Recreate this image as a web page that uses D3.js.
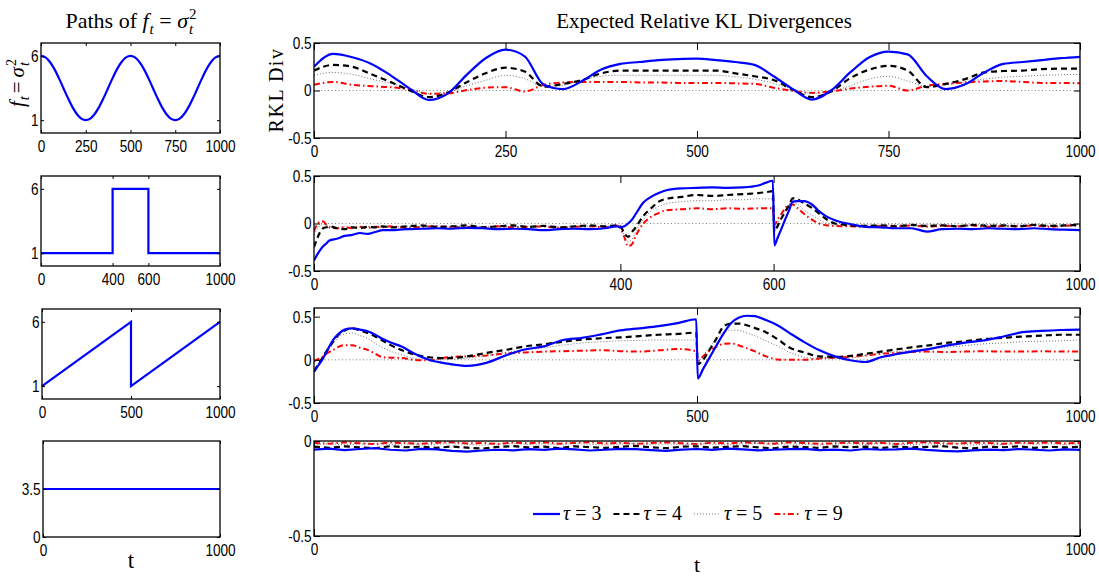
<!DOCTYPE html>
<html><head><meta charset="utf-8">
<script src="https://cdn.jsdelivr.net/npm/d3@7"></script>
<style>body{margin:0;background:#fff} svg{display:block}</style>
</head><body>
<svg id="c" width="1099" height="577"></svg>
<script>
// ---------------- DATA ----------------
// left column: paths of f_t = sigma_t^2
const tSine = [0,25,50,75,100,125,150,175,200,225,250,275,300,325,350,375,400,425,450,475,500,525,550,575,600,625,650,675,700,725,750,775,800,825,850,875,900,925,950,975,1000];
const fSine = [6.00,5.88,5.52,4.97,4.27,3.50,2.73,2.03,1.48,1.12,1.00,1.12,1.48,2.03,2.73,3.50,4.27,4.97,5.52,5.88,6.00,5.88,5.52,4.97,4.27,3.50,2.73,2.03,1.48,1.12,1.00,1.12,1.48,2.03,2.73,3.50,4.27,4.97,5.52,5.88,6.00];
const tStep = [0,400,400,600,600,1000];
const fStep = [1,1,6,6,1,1];
const tSaw = [0,500,500,1000];
const fSaw = [1,6,1,6];
const tConst = [0,1000];
const fConst = [3.5,3.5];

// right column: expected relative KL divergences
const tauLabels = ["3","4","5","9"];

const t1 = [0,25,50,75,100,125,150,175,200,225,250,275,300,325,350,375,400,425,450,475,500,525,550,575,600,625,650,675,700,725,750,775,800,825,850,875,900,925,950,975,1000];
const p1tau3 = [0.25,0.385,0.35,0.28,0.16,0.02,-0.10,-0.03,0.17,0.345, 0.43,0.36,0.06,0.015,0.10,0.22,0.28,0.30,0.32,0.33, 0.335,0.32,0.30,0.27,0.15,0.015,-0.095,0.0,0.19,0.35, 0.41,0.38,0.15,0.015,0.065,0.19,0.28,0.30,0.32,0.34,0.355];
const p1tau4 = [0.21,0.27,0.25,0.17,0.09,0.0,-0.07,-0.02,0.09,0.185, 0.24,0.20,0.04,0.07,0.11,0.18,0.21,0.21,0.21,0.21, 0.21,0.21,0.18,0.15,0.11,0.01,-0.07,-0.01,0.13,0.22, 0.26,0.21,0.035,0.07,0.12,0.19,0.205,0.21,0.225,0.23,0.23];
const p1tau5 = [0.16,0.19,0.17,0.12,0.075,0.02,-0.03,-0.015,0.05,0.11, 0.16,0.125,0.04,0.055,0.11,0.15,0.16,0.16,0.16,0.16, 0.16,0.16,0.145,0.12,0.075,0.015,-0.03,-0.01,0.05,0.12, 0.15,0.10,0.045,0.06,0.09,0.12,0.14,0.15,0.16,0.165,0.17];
const p1tau9 = [0.06,0.09,0.06,0.045,0.035,0.01,-0.035,-0.03,0.005,0.03, 0.035,-0.01,0.06,0.085,0.09,0.09,0.09,0.085,0.085,0.08, 0.08,0.08,0.075,0.07,0.03,-0.005,-0.025,-0.01,0.02,0.04, 0.05,0.0,0.05,0.07,0.085,0.095,0.10,0.09,0.08,0.08,0.075];

const t2 = [0,4,8,12,16,20,30,40,50,60,70,80,90,100,120,140,160,180,200,220,240,260,280,300,320,340,360,380,395,400,405,410,415,420,430,440,450,460,480,500,520,540,560,580,590,599,601,605,610,615,620,625,630,640,650,660,670,680,690,700,720,740,760,780,800,820,840,860,880,900,920,940,960,980,1000];
const p2tau3 = [-0.39,-0.33,-0.28,-0.24,-0.21,-0.18,-0.16,-0.13,-0.12,-0.10, -0.11,-0.09,-0.07,-0.07,-0.06,-0.055,-0.05,-0.055,-0.045,-0.05, -0.06,-0.055,-0.06,-0.07,-0.06,-0.055,-0.06,-0.05,-0.03,-0.04, -0.03,0.0,0.04,0.10,0.22,0.28,0.32,0.35,0.37,0.375, 0.38,0.375,0.38,0.40,0.43,0.45,-0.23,-0.155,-0.06,0.04, 0.135,0.23,0.235,0.235,0.20,0.125,0.07,0.035,0.01,-0.005, -0.035,-0.04,-0.05,-0.05,-0.085,-0.06,-0.055,-0.06,-0.05,-0.055, -0.06,-0.05,-0.06,-0.065,-0.07];
const p2tau4 = [-0.25,-0.16,-0.09,-0.05,-0.04,-0.03,-0.05,-0.06,-0.04,-0.05, -0.035,-0.04,-0.03,-0.04,-0.03,-0.02,-0.035,-0.03,-0.02,-0.04, -0.03,-0.02,-0.035,-0.025,-0.04,-0.03,-0.02,-0.03,-0.02,-0.03, -0.10,-0.14,-0.09,-0.04,0.08,0.16,0.23,0.26,0.28,0.30, 0.29,0.30,0.31,0.32,0.33,0.34,-0.085,-0.03,0.05,0.12, 0.19,0.265,0.26,0.21,0.165,0.10,0.04,0.0,-0.01,-0.02, -0.025,-0.02,-0.03,-0.015,-0.025,-0.02,-0.03,-0.015,-0.025,-0.02, -0.03,-0.015,-0.025,-0.02,-0.015];
const p2tau5 = [-0.12,-0.06,-0.02,-0.01,-0.02,-0.03,-0.04,-0.035,-0.03,-0.04, -0.03,-0.035,-0.04,-0.03,-0.035,-0.03,-0.04,-0.03,-0.035,-0.03, -0.04,-0.03,-0.035,-0.03,-0.04,-0.03,-0.035,-0.03,-0.02,-0.02, -0.12,-0.19,-0.17,-0.08,0.04,0.13,0.18,0.21,0.23,0.24, 0.24,0.25,0.25,0.26,0.26,0.26,-0.05,0.0,0.06,0.13, 0.19,0.22,0.21,0.14,0.09,0.04,0.0,-0.01,-0.015,-0.02, -0.015,-0.02,-0.01,-0.02,-0.015,-0.01,-0.02,-0.015,-0.01,-0.02, -0.015,-0.01,-0.02,-0.015,-0.01];
const p2tau9 = [-0.08,-0.01,0.02,0.02,-0.01,-0.04,-0.05,-0.04,-0.05,-0.035, -0.045,-0.035,-0.04,-0.03,-0.045,-0.035,-0.03,-0.04,-0.035,-0.045, -0.03,-0.04,-0.035,-0.03,-0.045,-0.035,-0.03,-0.04,-0.02,-0.05, -0.14,-0.24,-0.22,-0.13,0.0,0.07,0.11,0.14,0.15,0.16, 0.15,0.16,0.155,0.16,0.16,0.16,-0.015,0.04,0.10,0.16, 0.20,0.20,0.17,0.10,0.04,0.0,-0.02,-0.025,-0.03,-0.03, -0.035,-0.025,-0.03,-0.02,-0.035,-0.025,-0.03,-0.02,-0.035,-0.025, -0.03,-0.02,-0.035,-0.025,-0.02];

const t3 = [0,6,12,18,25,32,40,50,60,70,80,90,100,115,130,150,175,200,225,250,275,300,325,350,375,400,425,450,475,499,501,508,516,525,535,545,555,565,575,590,605,620,640,660,680,700,720,740,760,780,800,825,850,875,900,925,950,975,1000];
const p3tau3 = [-0.14,-0.06,0.02,0.12,0.23,0.30,0.35,0.365,0.35,0.33, 0.29,0.24,0.20,0.15,0.075,0.0,-0.045,-0.07,-0.035,0.05, 0.12,0.155,0.23,0.255,0.295,0.34,0.365,0.39,0.425,0.47, -0.215,-0.105,0.02,0.16,0.31,0.43,0.49,0.51,0.505,0.46, 0.40,0.315,0.205,0.11,0.04,-0.005,-0.025,0.03,0.065,0.095, 0.12,0.165,0.20,0.225,0.27,0.32,0.335,0.345,0.35];
const p3tau4 = [-0.13,-0.05,0.04,0.12,0.21,0.29,0.34,0.365,0.34,0.31, 0.27,0.22,0.17,0.11,0.065,0.03,0.02,0.04,0.08,0.115, 0.155,0.18,0.21,0.235,0.25,0.26,0.275,0.29,0.30,0.315, -0.05,0.0,0.11,0.24,0.39,0.42,0.42,0.40,0.37,0.32, 0.24,0.145,0.085,0.04,0.035,0.045,0.07,0.095,0.12,0.145, 0.165,0.195,0.215,0.24,0.255,0.27,0.28,0.29,0.29];
const p3tau5 = [-0.10,-0.04,0.03,0.10,0.19,0.26,0.30,0.31,0.28,0.25, 0.19,0.14,0.10,0.055,0.02,0.005,0.005,0.02,0.05,0.085, 0.115,0.14,0.17,0.195,0.21,0.22,0.225,0.23,0.23,0.23, -0.02,0.05,0.14,0.24,0.32,0.345,0.34,0.31,0.28,0.22, 0.16,0.09,0.03,0.015,0.015,0.02,0.05,0.075,0.095,0.11, 0.125,0.145,0.165,0.185,0.195,0.21,0.215,0.22,0.23];
const p3tau9 = [-0.015,0.01,0.04,0.08,0.115,0.15,0.17,0.17,0.14,0.115, 0.07,0.03,0.025,0.02,0.0,-0.005,0.03,0.04,0.05,0.075, 0.085,0.095,0.10,0.105,0.11,0.10,0.095,0.11,0.125,0.10, -0.015,0.04,0.10,0.15,0.185,0.19,0.165,0.135,0.10,0.04, 0.005,0.0,0.0,0.015,0.025,0.035,0.05,0.07,0.08,0.09, 0.095,0.09,0.095,0.10,0.095,0.095,0.10,0.095,0.095];

const t4 = [0,20,40,60,80,100,120,140,160,180,200,220,240,260,280,300,320,340,360,380,400,420,440,460,480,500,520,540,560,580,600,620,640,660,680,700,720,740,760,780,800,820,840,860,880,900,920,940,960,980,1000];
const p4tau3 = [-0.045,-0.040,-0.048,-0.042,-0.038,-0.046,-0.050,-0.041,-0.044,-0.052, -0.056,-0.050,-0.046,-0.049,-0.043,-0.047,-0.040,-0.044,-0.050,-0.046, -0.041,-0.043,-0.048,-0.052,-0.045,-0.042,-0.047,-0.040,-0.044,-0.049, -0.046,-0.043,-0.041,-0.048,-0.045,-0.050,-0.042,-0.046,-0.044,-0.040, -0.047,-0.052,-0.055,-0.049,-0.045,-0.048,-0.042,-0.046,-0.050,-0.044,-0.047];
const p4tau4 = [-0.030,-0.036,-0.028,-0.034,-0.038,-0.027,-0.033,-0.030,-0.036,-0.029, -0.035,-0.040,-0.031,-0.027,-0.034,-0.030,-0.037,-0.028,-0.032,-0.036, -0.030,-0.026,-0.033,-0.038,-0.030,-0.028,-0.035,-0.031,-0.027,-0.034, -0.038,-0.029,-0.032,-0.036,-0.028,-0.033,-0.030,-0.037,-0.029,-0.034, -0.031,-0.027,-0.035,-0.039,-0.030,-0.033,-0.028,-0.036,-0.031,-0.034,-0.030];
const p4tau5 = [-0.018,-0.014,-0.020,-0.016,-0.012,-0.019,-0.015,-0.021,-0.017,-0.013, -0.018,-0.022,-0.016,-0.014,-0.019,-0.015,-0.020,-0.013,-0.017,-0.021, -0.016,-0.012,-0.018,-0.015,-0.020,-0.014,-0.017,-0.021,-0.016,-0.013, -0.019,-0.015,-0.018,-0.022,-0.016,-0.014,-0.019,-0.013,-0.017,-0.020, -0.015,-0.018,-0.014,-0.021,-0.016,-0.019,-0.013,-0.017,-0.015,-0.020,-0.016];
const p4tau9 = [-0.010,-0.014,-0.007,-0.012,-0.016,-0.008,-0.011,-0.015,-0.009,-0.006, -0.013,-0.010,-0.016,-0.008,-0.012,-0.007,-0.014,-0.010,-0.006,-0.013, -0.009,-0.015,-0.011,-0.007,-0.012,-0.016,-0.009,-0.013,-0.008,-0.011, -0.014,-0.007,-0.010,-0.015,-0.012,-0.008,-0.013,-0.010,-0.016,-0.009, -0.006,-0.012,-0.014,-0.008,-0.011,-0.015,-0.009,-0.012,-0.007,-0.013,-0.010];

// tick values
const leftXTicks = [[0,250,500,750,1000],[0,400,600,1000],[0,500,1000],[0,1000]];
const leftYTicks = [[1,6],[1,6],[1,6],[0,3.5]];
const rightXTicks = [[0,250,500,750,1000],[0,400,600,1000],[0,500,1000],[0,1000]];
const rightYTicks = [[-0.5,0,0.5],[-0.5,0,0.5],[-0.5,0,0.5],[-0.5,0]];
const rightYDomains = [[-0.5,0.5],[-0.5,0.5],[-0.5,0.6],[-0.5,0]];
const leftYDomain = [0,7];

// ---------------- DRAWING ----------------
const svg = d3.select('#c');
const TICKFONT = "'Liberation Sans',Arial,sans-serif";
const SERIF = "'Liberation Serif','Times New Roman',serif";

const styles = [
  {color:'#0000ff', width:2.2, dash:null},
  {color:'#000000', width:2.2, dash:'6,4'},
  {color:'#707070', width:1, dash:'1,2'},
  {color:'#ff0000', width:2, dash:'6,3,1.5,3'}
];

const leftBoxes = [
  {x0:41,x1:220,y0:43,y1:133},
  {x0:41,x1:220,y0:176,y1:266},
  {x0:42,x1:220,y0:309,y1:399},
  {x0:43,x1:220,y0:441,y1:537}
];
const rightBoxes = [
  {x0:314,x1:1080,y0:43,y1:138},
  {x0:314,x1:1080,y0:176,y1:271},
  {x0:314,x1:1080,y0:308,y1:403},
  {x0:314,x1:1080,y0:441,y1:536}
];

const leftPaths = [[tSine,fSine,true],[tStep,fStep,false],[tSaw,fSaw,false],[tConst,fConst,false]];
const rightData = [
  [t1,[p1tau3,p1tau4,p1tau5,p1tau9]],
  [t2,[p2tau3,p2tau4,p2tau5,p2tau9]],
  [t3,[p3tau3,p3tau4,p3tau5,p3tau9]],
  [t4,[p4tau3,p4tau4,p4tau5,p4tau9]]
];

function drawAxes(b, x, y, xt, yt, xlen, ylen){
  const g = svg.append('g');
  const fmt = d => String(d);
  const ax = g.append('g').attr('transform',`translate(0,${b.y1})`)
    .call(d3.axisBottom(x).tickValues(xt).tickSizeInner(-xlen).tickSizeOuter(0).tickPadding(7).tickFormat(fmt));
  const axt = g.append('g').attr('transform',`translate(0,${b.y0})`)
    .call(d3.axisTop(x).tickValues(xt).tickSizeInner(-xlen).tickSizeOuter(0).tickFormat(''));
  const ay = g.append('g').attr('transform',`translate(${b.x0},0)`)
    .call(d3.axisLeft(y).tickValues(yt).tickSizeInner(-ylen).tickSizeOuter(0).tickPadding(3).tickFormat(fmt));
  const ayr = g.append('g').attr('transform',`translate(${b.x1},0)`)
    .call(d3.axisRight(y).tickValues(yt).tickSizeInner(-ylen).tickSizeOuter(0).tickFormat(''));
  [ax,axt,ay,ayr].forEach(a=>{
    a.select('.domain').remove();
    a.selectAll('line').attr('stroke','#000').attr('stroke-width',1);
    a.selectAll('text').attr('font-family',TICKFONT).attr('font-size',17).attr('fill','#000')
      .attr('transform','scale(0.8,1)');
  });
  g.append('rect').attr('x',b.x0).attr('y',b.y0).attr('width',b.x1-b.x0).attr('height',b.y1-b.y0)
    .attr('fill','none').attr('stroke','#000').attr('stroke-width',1.3);
}

// left column
leftBoxes.forEach((b,i)=>{
  const x = d3.scaleLinear().domain([0,1000]).range([b.x0,b.x1]);
  const y = d3.scaleLinear().domain(leftYDomain).range([b.y1,b.y0]);
  const [tt,ff,smooth] = leftPaths[i];
  const line = d3.line().x(d=>x(d[0])).y(d=>y(d[1])).curve(smooth?d3.curveCatmullRom:d3.curveLinear);
  svg.append('path').attr('d',line(tt.map((t,k)=>[t,ff[k]])))
    .attr('fill','none').attr('stroke','#0000ff').attr('stroke-width',2.2);
  drawAxes(b,x,y,leftXTicks[i],leftYTicks[i],3,3);
});

// right column
rightBoxes.forEach((b,i)=>{
  const x = d3.scaleLinear().domain([0,1000]).range([b.x0,b.x1]);
  const y = d3.scaleLinear().domain(rightYDomains[i]).range([b.y1,b.y0]);
  const clipId = 'clip'+i;
  svg.append('clipPath').attr('id',clipId).append('rect')
    .attr('x',b.x0).attr('y',b.y0).attr('width',b.x1-b.x0).attr('height',b.y1-b.y0);
  const g = svg.append('g').attr('clip-path',`url(#${clipId})`);
  // zero reference line
  g.append('line').attr('x1',x(0)).attr('x2',x(1000)).attr('y1',y(0)).attr('y2',y(0))
    .attr('stroke','#808080').attr('stroke-width',1).attr('stroke-dasharray','1,2.5');
  const [tt,series] = rightData[i];
  const line = d3.line().x(d=>x(d[0])).y(d=>y(d[1])).curve(i<3?d3.curveMonotoneX:d3.curveLinear);
  // draw order: tau9, tau5, tau4, tau3 on top
  [3,2,1,0].forEach(s=>{
    const st = styles[s];
    g.append('path').attr('d',line(tt.map((t,k)=>[t,series[s][k]])))
      .attr('fill','none').attr('stroke',st.color).attr('stroke-width',st.width)
      .attr('stroke-dasharray',st.dash).attr('stroke-linejoin','round');
  });
  drawAxes(b,x,y,rightXTicks[i],rightYTicks[i],7,6);
});

// math text helper
function mathText(parent, pieces, size){
  const g = parent.append('g');
  let cx = 0, prevX = 0;
  pieces.forEach(p=>{
    const fs = (p.sub||p.sup) ? size*0.68 : size;
    const dy = p.sub ? size*0.26 : (p.sup ? -size*0.40 : 0);
    const startX = p.stack ? prevX : cx;
    const t = g.append('text').attr('x',startX).attr('y',dy).text(p.t)
      .attr('font-family',SERIF).attr('font-size',fs)
      .attr('font-style',p.i?'italic':'normal').attr('fill','#000')
      .style('white-space','pre');
    const w = t.node().getComputedTextLength();
    if(!p.stack) prevX = startX;
    cx = Math.max(cx, startX + w + (p.gap||0));
  });
  return {g, width: cx};
}

// titles
(function(){
  const m = mathText(svg,[{t:'Paths of '},{t:'f',i:1,gap:1},{t:'t',i:1,sub:1},{t:' = '},{t:'σ',i:1,gap:1},{t:'2',sup:1},{t:'t',i:1,sub:1,stack:1}],22);
  m.g.attr('transform',`translate(${131-m.width/2},28)`);
})();
svg.append('text').attr('x',704).attr('y',28).attr('text-anchor','middle')
  .attr('font-family',SERIF).attr('font-size',21).text('Expected Relative KL Divergences');

// y labels
svg.append('text').attr('transform','translate(283,90) rotate(-90)').attr('text-anchor','middle')
  .attr('font-family',SERIF).attr('font-size',20).attr('letter-spacing',1.5).text('RKL Div');
(function(){
  const m = mathText(svg,[{t:'f',i:1,gap:1},{t:'t',i:1,sub:1,gap:3},{t:'=',gap:4},{t:'σ',i:1,gap:1},{t:'2',sup:1},{t:'t',i:1,sub:1,stack:1}],21);
  m.g.attr('transform',`translate(24,${83+m.width/2}) rotate(-90)`);
})();

// x labels
svg.append('text').attr('x',131).attr('y',568).attr('text-anchor','middle')
  .attr('font-family',SERIF).attr('font-size',23).text('t');
svg.append('text').attr('x',697).attr('y',572).attr('text-anchor','middle')
  .attr('font-family',SERIF).attr('font-size',22).text('t');

// legend
(function(){
  let lx = 533; const ly = 514;
  styles.forEach((st,k)=>{
    svg.append('line').attr('x1',lx).attr('x2',lx+27).attr('y1',ly).attr('y2',ly)
      .attr('stroke',st.color).attr('stroke-width',st.width).attr('stroke-dasharray',st.dash);
    const m = mathText(svg,[{t:'τ',i:1},{t:' = '+tauLabels[k]}],20);
    m.g.attr('transform',`translate(${lx+30},${ly+6})`);
    lx += 30 + m.width + 12;
  });
})();
</script>
</body></html>
